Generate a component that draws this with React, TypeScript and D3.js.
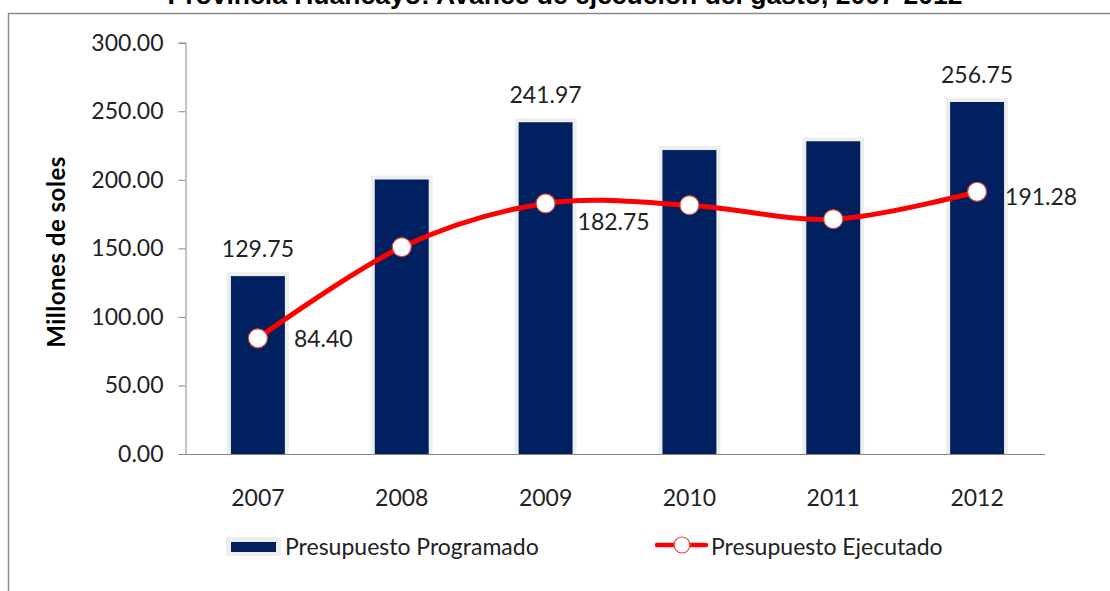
import { useEffect, useRef } from 'react';
import * as d3 from 'd3';

const years = ['2007', '2008', '2009', '2010', '2011', '2012'];
const programado = [129.75, 200.2, 241.97, 221.7, 228.1, 256.75];
const ejecutado = [84.4, 150.9, 182.75, 181.5, 171.3, 191.28];
const yTicks = [0, 50, 100, 150, 200, 250, 300];
// which points carry a data label
const barLabelYears = ['2007', '2009', '2012'];
const lineLabelYears = ['2007', '2009', '2012'];

const W = 1110;
const H = 591;
const NAVY = '#002060';
const RED = '#ff0000';
const FONT = 'Lato, "Open Sans", sans-serif';
const FS = '23px';

// label offsets relative to the point (dx to text start, dy to baseline)
const lineLabelOffset: Record<string, [number, number]> = {
    '2007': [36, 9],
    '2009': [32, 27],
    '2012': [28, 13],
};

export default function App() {
    const svgRef = useRef<SVGSVGElement | null>(null);

    useEffect(() => {
        const svg = d3.select(svgRef.current);
        svg.selectAll('*').remove();

        const left = 186, right = 1049, top = 42.7, bottom = 454;

        const x = d3.scaleBand().domain(years).range([left, right]).paddingInner(0.625).paddingOuter(0.3125);
        const y = d3.scaleLinear().domain([0, 300]).range([bottom, top]);
        const cx = (yr: string) => (x(yr) as number) + x.bandwidth() / 2;

        // frame
        svg.append('path')
            .attr('d', `M8.5,${H} V13.5 H${W}`)
            .attr('fill', 'none')
            .attr('stroke', '#8a8a8a')
            .attr('stroke-width', 1.5);

        // title (cut off at the top edge, as in the source)
        svg.append('text')
            .attr('x', 565)
            .attr('y', 4)
            .attr('text-anchor', 'middle')
            .style('font-family', 'Arial, "Liberation Sans", sans-serif')
            .style('font-weight', 'bold')
            .style('font-size', '26.5px')
            .attr('fill', '#000')
            .text('Provincia Huancayo: Avance de ejecución del gasto, 2007-2012');

        // y axis
        const yAxis = svg.append('g')
            .attr('transform', `translate(${left - 0.5},0)`)
            .call(d3.axisLeft(y).tickValues(yTicks).tickSize(7).tickPadding(15).tickFormat(d3.format('.2f')));
        yAxis.select('.domain').attr('stroke', '#888');
        yAxis.selectAll('.tick line').attr('stroke', '#888');
        yAxis.selectAll('.tick text')
            .attr('fill', '#222')
            .style('font-family', FONT)
            .style('font-size', FS);

        // x axis
        const xAxis = svg.append('g')
            .attr('transform', `translate(0,${bottom})`)
            .call(d3.axisBottom(x).tickSize(0).tickPadding(36));
        xAxis.select('.domain').attr('stroke', '#888').attr('d', `M${left - 1},0.5H${right - 4}`);
        xAxis.selectAll('.tick text')
            .attr('fill', '#222')
            .style('font-family', FONT)
            .style('font-size', FS);

        // y axis title
        svg.append('text')
            .attr('transform', `translate(65,252) rotate(-90)`)
            .attr('text-anchor', 'middle')
            .style('font-family', FONT)
            .style('font-weight', 'bold')
            .style('font-size', '24px')
            .style('letter-spacing', '0.5px')
            .attr('fill', '#000')
            .text('Millones de soles');

        // bars with soft light border
        const bars = svg.append('g');
        bars.selectAll('rect.shadow')
            .data(years)
            .enter()
            .append('rect')
            .attr('class', 'shadow')
            .attr('x', d => (x(d) as number) - 4)
            .attr('y', (d, i) => y(programado[i]) - 4)
            .attr('width', x.bandwidth() + 8)
            .attr('height', (d, i) => bottom - y(programado[i]) + 4)
            .attr('fill', '#eeeeee');
        bars.selectAll('rect.bar')
            .data(years)
            .enter()
            .append('rect')
            .attr('class', 'bar')
            .attr('x', d => x(d) as number)
            .attr('y', (d, i) => y(programado[i]))
            .attr('width', x.bandwidth())
            .attr('height', (d, i) => bottom - y(programado[i]))
            .attr('fill', NAVY);

        // smoothed line
        const line = d3.line<number>()
            .x((d, i) => cx(years[i]))
            .y(d => y(d))
            .curve(d3.curveCardinal.tension(0));
        svg.append('path')
            .datum(ejecutado)
            .attr('d', line)
            .attr('fill', 'none')
            .attr('stroke', RED)
            .attr('stroke-width', 5)
            .attr('stroke-linecap', 'round');

        svg.selectAll('circle.pt')
            .data(ejecutado)
            .enter()
            .append('circle')
            .attr('class', 'pt')
            .attr('cx', (d, i) => cx(years[i]))
            .attr('cy', d => y(d))
            .attr('r', 9.5)
            .attr('fill', '#fff')
            .attr('stroke', '#d9463a')
            .attr('stroke-width', 1.2);

        // labels
        const fmt = d3.format('.2f');
        svg.selectAll('text.barlab')
            .data(years.filter(yr => barLabelYears.includes(yr)))
            .enter()
            .append('text')
            .attr('class', 'barlab')
            .attr('x', d => cx(d))
            .attr('y', d => y(programado[years.indexOf(d)]) - 19)
            .attr('text-anchor', 'middle')
            .style('font-family', FONT)
            .style('font-size', FS)
            .attr('fill', '#222')
            .text(d => fmt(programado[years.indexOf(d)]));

        svg.selectAll('text.linelab')
            .data(years.filter(yr => lineLabelYears.includes(yr)))
            .enter()
            .append('text')
            .attr('class', 'linelab')
            .attr('x', d => cx(d) + lineLabelOffset[d][0])
            .attr('y', d => y(ejecutado[years.indexOf(d)]) + lineLabelOffset[d][1])
            .attr('text-anchor', 'start')
            .style('font-family', FONT)
            .style('font-size', FS)
            .attr('fill', '#222')
            .text(d => fmt(ejecutado[years.indexOf(d)]));

        // legend
        const lg = svg.append('g');
        lg.append('rect').attr('x', 226).attr('y', 537).attr('width', 55).attr('height', 19).attr('fill', '#eeeeee');
        lg.append('rect').attr('x', 231).attr('y', 542).attr('width', 45).attr('height', 10).attr('fill', NAVY);
        lg.append('text')
            .attr('x', 285).attr('y', 555)
            .style('font-family', FONT).style('font-size', FS).attr('fill', '#222')
            .text('Presupuesto Programado');
        lg.append('line')
            .attr('x1', 657).attr('x2', 706).attr('y1', 545).attr('y2', 545)
            .attr('stroke', RED).attr('stroke-width', 4.5).attr('stroke-linecap', 'round');
        lg.append('circle')
            .attr('cx', 682).attr('cy', 545).attr('r', 8)
            .attr('fill', '#fff').attr('stroke', '#d9463a').attr('stroke-width', 1.2);
        lg.append('text')
            .attr('x', 711).attr('y', 555)
            .style('font-family', FONT).style('font-size', FS).attr('fill', '#222')
            .text('Presupuesto Ejecutado');
    }, []);

    return (
        <div style={{ position: 'absolute', left: 0, top: 0, width: W, height: H, background: '#fff' }}>
            <svg ref={svgRef} width={W} height={H} style={{ display: 'block' }}></svg>
        </div>
    );
}
